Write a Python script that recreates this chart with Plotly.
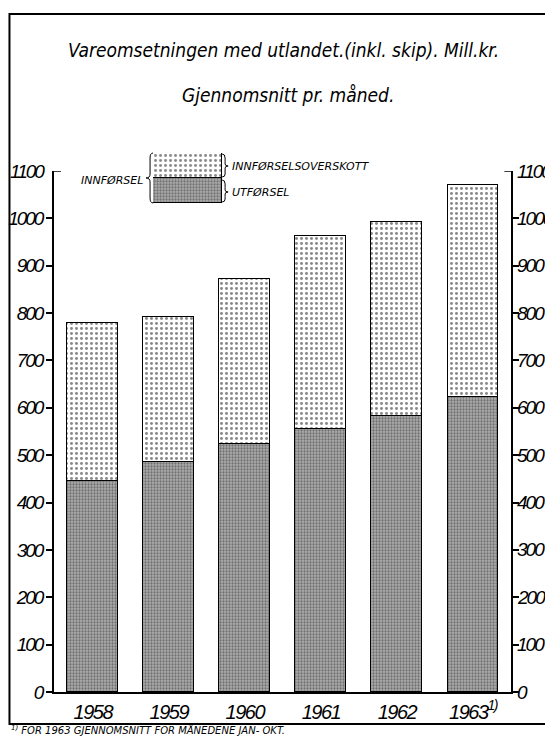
import plotly.graph_objects as go

# Data (mill. kr, monthly average)
years = ['1958', '1959', '1960', '1961', '1962', '1963']
year_labels = ['1958', '1959', '1960', '1961', '1962', '1963<sup>1)</sup>']
exports = [446, 485, 523, 556, 582, 623]      # utførsel
imports = [780, 792, 872, 963, 992, 1070]     # innførsel
surplus = [i - e for i, e in zip(imports, exports)]  # innførselsoverskott
y_ticks = list(range(0, 1001, 100))
y_top = 1100

# page layout in window pixels; the html body adds an 8px margin
PAGE_W, PAGE_H = 553, 737
OFF = 8
AX_L, AX_R, AX_T, AX_B = 54, 510.7, 140, 692
W, H = PAGE_W - OFF, PAGE_H - OFF


def px(x):
    return (x - AX_L) / (AX_R - AX_L)


def py(y):
    return (AX_B - y) / (AX_B - AX_T)


def narrow(s, sp=-2):
    # the hand lettering is narrower than any installed font, so tighten it
    return '<span style="letter-spacing:{}px">{}</span>'.format(sp, s)


NUM_FONT = 'Liberation Sans, Arial, sans-serif'
TXT_FONT = 'DejaVu Sans Condensed, DejaVu Sans, sans-serif'

export_marker = dict(color='#9a9a9a',
                     pattern=dict(shape='.', fgcolor='#333333', bgcolor='#adadad',
                                  size=3, solidity=0.45),
                     line=dict(color='black', width=1.5))
surplus_marker = dict(color='white',
                      pattern=dict(shape='.', fgcolor='#111111', bgcolor='white',
                                   size=5, solidity=0.28),
                      line=dict(color='black', width=1.5))

fig = go.Figure()
fig.add_trace(go.Bar(x=years, y=exports, marker=export_marker, width=0.67,
                     name='UTFØRSEL', showlegend=False))
fig.add_trace(go.Bar(x=years, y=surplus, marker=surplus_marker, width=0.67,
                     name='INNFØRSELSOVERSKOTT', showlegend=False))

# legend swatch drawn as a tiny stacked bar on its own axes
fig.add_trace(go.Bar(x=[0], y=[1], marker=export_marker, width=1, xaxis='x2', yaxis='y2',
                     showlegend=False, hoverinfo='skip'))
fig.add_trace(go.Bar(x=[0], y=[1], marker=surplus_marker, width=1, xaxis='x2', yaxis='y2',
                     showlegend=False, hoverinfo='skip'))

axis_common = dict(showgrid=False, zeroline=False, color='black', automargin=False)
tick_font = dict(size=19, style='italic', family=NUM_FONT, color='black')
main_top = py(171)

fig.update_layout(
    width=W, height=H,
    margin=dict(l=AX_L - OFF, r=W - (AX_R - OFF), t=AX_T - OFF, b=H - (AX_B - OFF),
                autoexpand=False),
    barmode='stack',
    bargap=0,
    plot_bgcolor='white', paper_bgcolor='white',
    font=dict(family=NUM_FONT, color='black'),
    xaxis=dict(**axis_common, type='category', range=[-0.51, 5.5],
               tickvals=years, ticktext=[narrow(t, -1.5) for t in year_labels],
               tickfont=dict(tick_font, size=20),
               showline=True, linewidth=1.5, linecolor='black', ticks='',
               ticklabelstandoff=1),
    yaxis=dict(**axis_common, domain=[0, main_top], range=[0, y_top],
               tickvals=y_ticks, ticktext=[narrow(v) for v in y_ticks],
               ticks='outside', ticklen=6, tickwidth=1.5, mirror='ticks',
               showline=True, linewidth=1.5, linecolor='black', tickfont=tick_font),
    xaxis2=dict(domain=[px(153), px(222)], range=[-0.5, 0.5], anchor='y2',
                visible=False, fixedrange=True),
    yaxis2=dict(domain=[py(203), py(153)], range=[0, 2], anchor='x2',
                visible=False, fixedrange=True),
)

shapes = []
# frame (right side runs off the page as in the original scan)
shapes.append(dict(type='rect', xref='paper', yref='paper',
                   x0=px(9.5), x1=px(570), y0=py(724), y1=py(14),
                   line=dict(color='black', width=2)))
# corner stubs at the top of both axes
shapes.append(dict(type='line', xref='paper', yref='y', x0=0, x1=px(61), y0=y_top, y1=y_top,
                   line=dict(color='black', width=1.5)))
shapes.append(dict(type='line', xref='paper', yref='y', x0=px(504), x1=1, y0=y_top, y1=y_top,
                   line=dict(color='black', width=1.5)))


def path(points):
    out = 'M {:.4f},{:.4f}'.format(px(points[0][0]), py(points[0][1]))
    for i in range(1, len(points), 2):
        c, p = points[i], points[i + 1]
        out += ' Q {:.4f},{:.4f} {:.4f},{:.4f}'.format(px(c[0]), py(c[1]), px(p[0]), py(p[1]))
    return out


# braces around the legend swatch
brace_l = [(153, 153), (150, 153), (150, 158), (150, 166), (150, 174), (150, 178), (146, 178),
           (150, 178), (150, 182), (150, 190), (150, 198), (150, 203), (153, 203)]
brace_r1 = [(222, 154), (225, 154), (225, 158), (225, 162), (225, 164), (225, 166), (228, 166),
            (225, 166), (225, 168), (225, 171), (225, 174), (225, 177), (222, 177)]
brace_r2 = [(222, 180), (225, 180), (225, 184), (225, 188), (225, 190), (225, 192), (228, 192),
            (225, 192), (225, 194), (225, 197), (225, 199), (225, 202), (222, 202)]
for b in (brace_l, brace_r1, brace_r2):
    shapes.append(dict(type='path', xref='paper', yref='paper', path=path(b),
                       line=dict(color='black', width=1)))
fig.update_layout(shapes=shapes)

ann = []
title_font = dict(family=TXT_FONT, size=19, style='italic', color='black')
ann.append(dict(text='Vareomsetningen med utlandet.(inkl. skip). Mill.kr.',
                x=px(283), y=py(50), xref='paper', yref='paper', showarrow=False,
                xanchor='center', yanchor='middle', font=title_font))
ann.append(dict(text='Gjennomsnitt pr. måned.',
                x=px(288), y=py(95), xref='paper', yref='paper', showarrow=False,
                xanchor='center', yanchor='middle', font=title_font))
legend_font = dict(family='DejaVu Sans, sans-serif', size=11, style='italic', color='black')
ann.append(dict(text='INNFØRSELSOVERSKOTT', x=px(230), y=py(166), xref='paper', yref='paper',
                showarrow=False, xanchor='left', yanchor='middle', font=legend_font))
ann.append(dict(text='UTFØRSEL', x=px(230), y=py(192), xref='paper', yref='paper',
                showarrow=False, xanchor='left', yanchor='middle', font=legend_font))
ann.append(dict(text='INNFØRSEL', x=px(145), y=py(180), xref='paper', yref='paper',
                showarrow=False, xanchor='right', yanchor='middle', font=legend_font))
ann.append(dict(text='<sup>1)</sup> FOR 1963 GJENNOMSNITT FOR MÅNEDENE JAN- OKT.',
                x=px(10), y=py(737), xref='paper', yref='paper', showarrow=False,
                xanchor='left', yanchor='bottom', borderpad=0,
                font=dict(family='DejaVu Sans, sans-serif', size=10, style='italic',
                          color='black')))
# left 1100 sits beside the corner stub; right-hand labels are placed on the y scale
ann.append(dict(text=narrow(y_top), x=px(47), y=y_top, xref='paper', yref='y',
                showarrow=False, xanchor='right', yanchor='middle', font=tick_font))
for v in y_ticks + [y_top]:
    ann.append(dict(text=narrow(v), x=px(515), y=v, xref='paper', yref='y',
                    showarrow=False, xanchor='left', yanchor='middle', font=tick_font))
fig.update_layout(annotations=ann)

fig.write_html('out.html')
